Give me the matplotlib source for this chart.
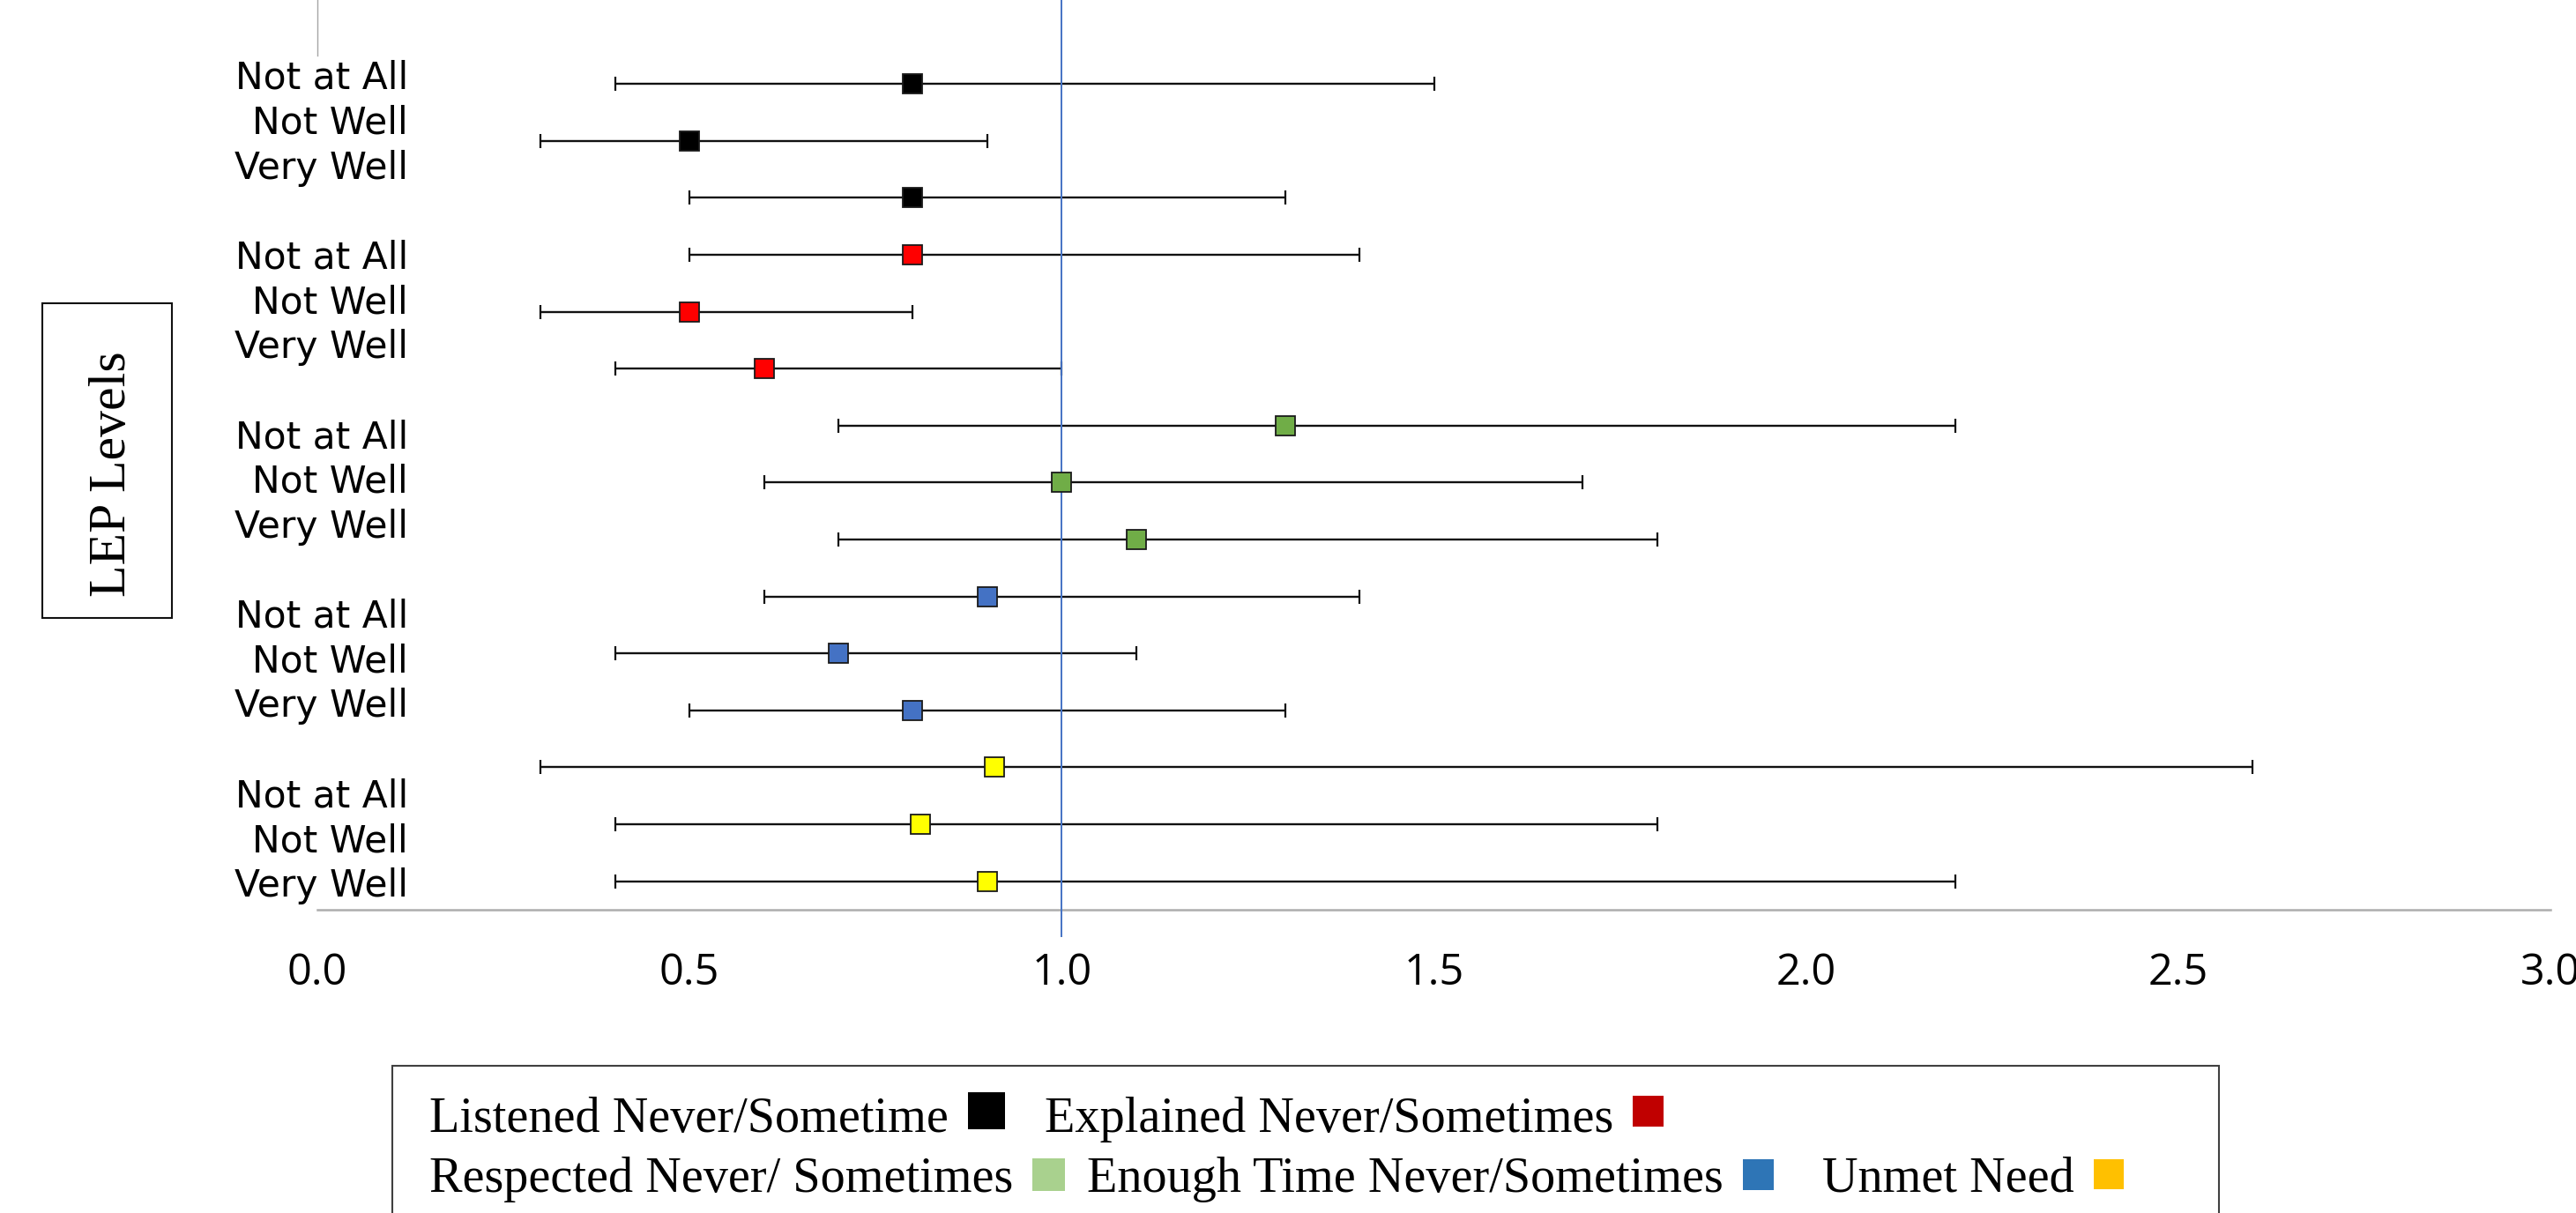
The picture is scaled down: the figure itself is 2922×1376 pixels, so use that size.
import numpy as np
import matplotlib
matplotlib.use("Agg")
import matplotlib.pyplot as plt
import matplotlib.transforms as mtransforms
from matplotlib.patches import Rectangle

# ---------------- data ----------------
groups = ["Listened Never/Sometime", "Explained Never/Sometimes",
          "Respected Never/ Sometimes", "Enough Time Never/Sometimes", "Unmet Need"]
levels = ["Not at All", "Not Well", "Very Well"]

listened_est = [0.80, 0.50, 0.80]
listened_lo = [0.40, 0.30, 0.50]
listened_hi = [1.50, 0.90, 1.30]

explained_est = [0.80, 0.50, 0.60]
explained_lo = [0.50, 0.30, 0.40]
explained_hi = [1.40, 0.80, 1.00]

respected_est = [1.30, 1.00, 1.10]
respected_lo = [0.70, 0.60, 0.70]
respected_hi = [2.20, 1.70, 1.80]

enough_est = [0.90, 0.70, 0.80]
enough_lo = [0.60, 0.40, 0.50]
enough_hi = [1.40, 1.10, 1.30]

unmet_est = [0.91, 0.81, 0.90]
unmet_lo = [0.30, 0.40, 0.40]
unmet_hi = [2.60, 1.80, 2.20]

x_ticks = [0.0, 0.5, 1.0, 1.5, 2.0, 2.5, 3.0]
reference_value = 1.0

# ---------------- styles ----------------
marker_colors = ["#000000", "#FF0000", "#70AD47", "#4472C4", "#FFFF00"]
legend_colors = ["#000000", "#C00000", "#A9D18E", "#2E75B6", "#FFC000"]

series = [
    (listened_est, listened_lo, listened_hi),
    (explained_est, explained_lo, explained_hi),
    (respected_est, respected_lo, respected_hi),
    (enough_est, enough_lo, enough_hi),
    (unmet_est, unmet_lo, unmet_hi),
]

W, H = 2922, 1376
fig = plt.figure(figsize=(W / 100, H / 100), dpi=100)


def fx(px):
    return px / W


def fy(py):
    return 1 - py / H


ax_left, ax_right, ax_top, ax_bottom = 360, 2893, 63, 1032
ax = fig.add_axes([fx(ax_left), fy(ax_bottom), fx(ax_right - ax_left), (ax_bottom - ax_top) / H])

for g, (est, lo, hi) in enumerate(series):
    ys = np.arange(3) + 3 * g
    est = np.asarray(est)
    xerr = np.vstack([est - np.asarray(lo), np.asarray(hi) - est])
    ax.errorbar(est, ys, xerr=xerr, fmt="none", ecolor="#111111",
                elinewidth=1.7, capsize=5.5, capthick=1.6, zorder=2)
    ax.plot(est, ys, linestyle="none", marker="s", markersize=16,
            markerfacecolor=marker_colors[g], markeredgecolor="#1a1a1a",
            markeredgewidth=1.3, zorder=4)

ax.set_xlim(0, 3)
ax.set_ylim(14.5, -0.5)

# reference line at 1.0 (extends slightly beyond the axes like the original)
blend = mtransforms.blended_transform_factory(ax.transData, ax.transAxes)
ax.plot([reference_value, reference_value], [-0.031, 1.065], transform=blend,
        color="#4472C4", lw=1.4, zorder=3, clip_on=False)
# short stub of the vertical axis above the plot
ax.plot([0, 0], [1.0, 1.07], transform=blend, color="#A6A6A6", lw=1.0, clip_on=False)

# x axis
ax.set_xticks(x_ticks)
ax.set_xticklabels([f"{v:.1f}" for v in x_ticks], fontfamily="Open Sans", fontsize=35)
ax.tick_params(axis="x", length=0, pad=34)

# y labels (grouped, with a blank slot between groups)
label_pos = []
label_txt = []
for g in range(len(groups)):
    for k, lev in enumerate(levels):
        j = 4 * g + k
        label_pos.append(-0.17 + 0.788 * j)
        label_txt.append(lev)
ax.set_yticks(label_pos)
ax.set_yticklabels(label_txt, fontfamily="DejaVu Sans", fontsize=30.5)
ax.tick_params(axis="y", length=0, pad=-74)

for s in ["top", "right", "left"]:
    ax.spines[s].set_visible(False)
ax.spines["bottom"].set_color("#ADADAD")
ax.spines["bottom"].set_linewidth(1.8)

# "LEP Levels" boxed axis title
fig.patches.append(Rectangle((fx(48), fy(701)), fx(147), 357 / H, transform=fig.transFigure,
                             fill=False, edgecolor="#111111", linewidth=1.5))
fig.text(fx(128), fy(538), "LEP Levels", rotation=90, ha="center", va="center",
         fontfamily="Liberation Serif", fontsize=43)

# legend box
fig.patches.append(Rectangle((fx(445), fy(1400)), fx(2517 - 445), (1400 - 1209) / H,
                             transform=fig.transFigure, fill=False,
                             edgecolor="#404040", linewidth=1.5))

legend_rows = [
    ([0, 1], [487, 1185], 1284, 1260, [42, 35]),
    ([2, 3, 4], [487, 1233, 2067], 1352, 1332, [37, 35, 34]),
]
fig.canvas.draw()
renderer = fig.canvas.get_renderer()
for idxs, starts, base, sq_c, sizes in legend_rows:
    for i, x0, sz in zip(idxs, starts, sizes):
        t = fig.text(fx(x0), fy(base), groups[i], ha="left", va="baseline",
                     fontfamily="Liberation Serif", fontsize=40.5)
        bb = t.get_window_extent(renderer)
        sx = bb.x1 + 22
        fig.patches.append(Rectangle((sx / W, fy(sq_c + sz / 2)), sz / W, sz / H,
                                     transform=fig.transFigure, facecolor=legend_colors[i],
                                     edgecolor="none"))

fig.savefig("out.png", dpi=100)
